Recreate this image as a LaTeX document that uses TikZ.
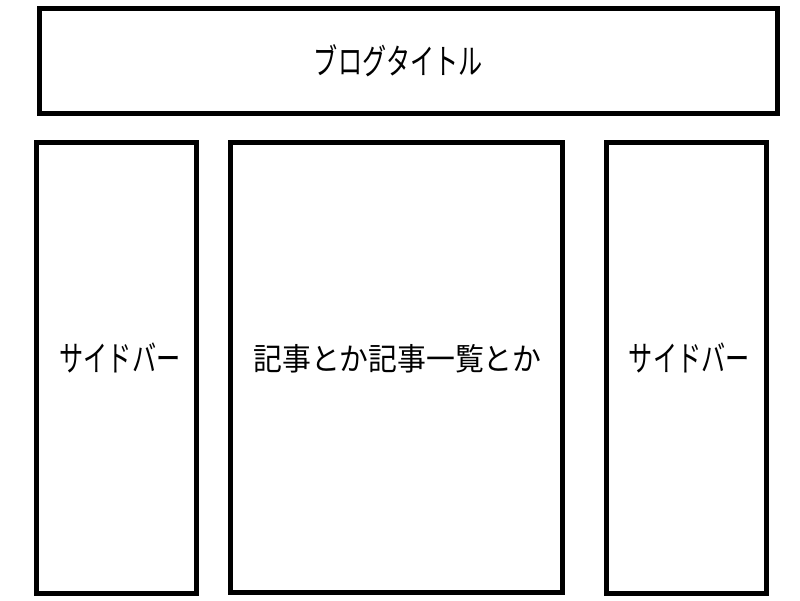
\documentclass[tikz,border=0pt]{standalone}
\usepackage{fontspec}
\newfontfamily\jp{Noto Sans CJK JP}
\usetikzlibrary{calc}
\tikzset{
  panel/.style={draw=black, line width=5pt, inner sep=0pt, fill=white},
  kana/.style={font=\jp\fontsize{35}{40}\selectfont, inner sep=0pt},
  kanji/.style={font=\jp\fontsize{31}{38}\selectfont, inner sep=0pt}
}
\begin{document}
\begin{tikzpicture}[x=1pt,y=-1pt]
\useasboundingbox (0,0) rectangle (800,600);
\fill[white] (0,0) rectangle (800,600);
\node[panel, minimum width=738pt, minimum height=105pt] (title) at (408.5,61) {};
\node[panel, minimum width=160pt, minimum height=450.5pt] (left) at (116.5,367.75) {};
\node[panel, minimum width=332pt, minimum height=450.5pt] (main) at (396.5,367.25) {};
\node[panel, minimum width=159.5pt, minimum height=451pt] (right) at (686.25,367.5) {};
\node[kana] (titletext) at ($(title.center)+(-10,0)$) {\scalebox{0.69}[1]{ブログタイトル}};
\node[kana] (lefttext) at ($(left.center)+(3.5,-9.5)$) {\scalebox{0.69}[1]{サイドバー}};
\node[kanji] (maintext) at ($(main.center)+(1,-8.5)$) {\scalebox{0.93}[1]{記事とか記事一覧とか}};
\node[kana] (righttext) at ($(right.center)+(3,-9.5)$) {\scalebox{0.69}[1]{サイドバー}};
\end{tikzpicture}
\end{document}
